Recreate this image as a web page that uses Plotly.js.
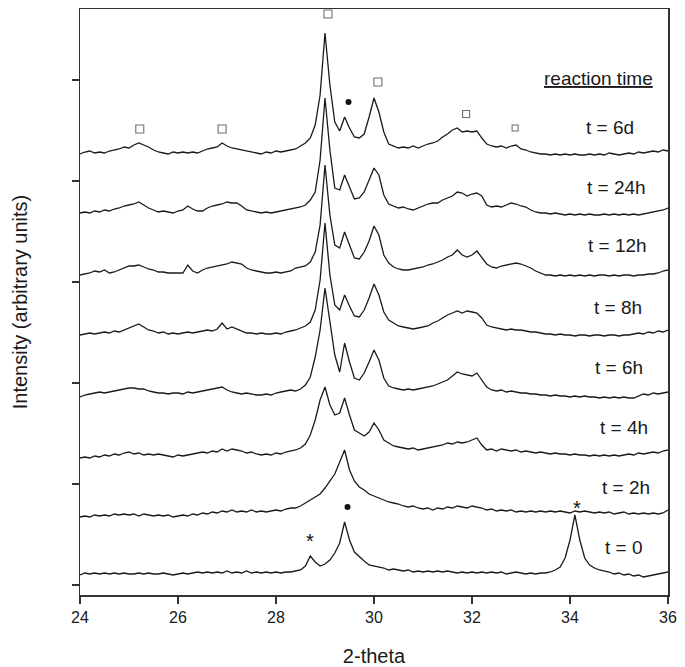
<!DOCTYPE html>
<html>
<head>
<meta charset="utf-8">
<script src="https://cdn.plot.ly/plotly-3.0.1.min.js"></script>
<style>html,body{margin:0;padding:0;background:#fff;}#chart{width:685px;height:667px;}</style>
</head>
<body>
<div id="chart"></div>
<script>
// 2-theta grid (degrees)
const twoTheta = [
24.0,24.1,24.2,24.3,24.4,24.5,24.6,24.7,24.8,24.9,
25.0,25.1,25.2,25.3,25.4,25.5,25.6,25.7,25.8,25.9,
26.0,26.1,26.2,26.3,26.4,26.5,26.6,26.7,26.8,26.9,
27.0,27.1,27.2,27.3,27.4,27.5,27.6,27.7,27.8,27.9,
28.0,28.1,28.2,28.3,28.4,28.5,28.6,28.7,28.8,28.9,
29.0,29.1,29.2,29.3,29.4,29.5,29.6,29.7,29.8,29.9,
30.0,30.1,30.2,30.3,30.4,30.5,30.6,30.7,30.8,30.9,
31.0,31.1,31.2,31.3,31.4,31.5,31.6,31.7,31.8,31.9,
32.0,32.1,32.2,32.3,32.4,32.5,32.6,32.7,32.8,32.9,
33.0,33.1,33.2,33.3,33.4,33.5,33.6,33.7,33.8,33.9,
34.0,34.1,34.2,34.3,34.4,34.5,34.6,34.7,34.8,34.9,
35.0,35.1,35.2,35.3,35.4,35.5,35.6,35.7,35.8,35.9,
36.0];

// stacked intensities (arbitrary units), one array per reaction time
const I_6d = [
431,433,434,432,433,432,434,435,436,438,
437,440,442,440,438,435,433,432,431,433,
432,433,432,433,432,434,436,437,438,442,
439,437,436,435,434,433,432,431,433,432,
434,433,434,435,436,439,442,447,460,490,
552,500,463,454,468,457,448,447,451,468,
487,473,453,441,439,437,438,437,439,437,
439,441,442,444,448,451,455,457,453,454,
453,454,447,441,439,438,439,437,439,440,
436,435,433,432,431,431,430,431,430,431,
430,431,430,430,431,430,431,430,432,431,
430,431,432,431,433,432,433,434,433,435,
434];
const I_24h = [
372,373,372,374,373,375,374,376,377,379,
380,381,383,380,377,375,373,374,373,372,
374,375,379,376,374,374,377,379,380,381,
383,382,382,379,375,374,373,372,373,372,
373,374,375,376,377,378,380,385,393,425,
487,435,397,395,410,397,386,387,393,405,
417,410,390,381,379,377,378,376,375,377,
379,381,382,382,385,387,389,393,392,389,
391,392,389,380,378,379,378,380,382,381,
379,378,375,373,372,372,371,372,371,370,
371,370,371,370,371,370,370,371,370,371,
370,371,370,371,370,371,372,373,374,375,
377];
const I_12h = [
310,311,312,314,313,315,312,313,315,317,
319,319,320,318,316,315,313,313,312,312,
312,312,320,314,312,315,317,318,319,320,
321,323,322,321,317,315,314,313,312,312,
313,312,313,314,317,318,319,323,333,360,
420,370,340,337,353,340,327,326,333,344,
359,350,330,322,318,316,315,315,316,317,
318,320,321,323,325,328,330,335,330,328,
330,334,327,321,318,317,319,320,321,322,
321,319,317,314,312,310,310,309,310,309,
310,309,310,309,310,309,310,310,309,310,
309,310,310,309,310,310,311,311,312,314,
315];
const I_8h = [
250,251,252,251,252,253,252,254,253,255,
257,259,261,258,255,254,252,253,251,252,
251,252,253,252,253,254,255,254,256,262,
256,258,256,254,252,252,251,252,251,251,
252,251,253,254,255,257,259,263,275,305,
362,310,280,275,290,279,269,268,275,287,
301,290,273,265,262,259,258,257,256,257,
258,259,262,264,267,270,272,274,272,274,
273,272,267,260,258,257,256,255,256,255,
255,254,253,253,252,251,251,250,251,250,
250,249,250,250,249,250,250,249,250,250,
249,250,250,251,252,251,253,252,254,253,
255];
const I_6h = [
188,190,191,192,193,192,193,194,195,196,
197,197,196,196,194,193,192,192,191,192,
192,191,193,192,193,194,195,196,197,198,
195,193,192,191,192,191,190,190,191,190,
192,193,194,195,194,196,200,208,228,255,
297,265,230,213,242,223,207,205,212,223,
235,225,207,199,197,196,195,196,195,196,
197,198,199,201,203,205,209,213,211,210,
209,212,205,198,195,194,195,193,194,193,
192,192,191,191,190,190,189,190,189,189,
188,189,188,189,188,188,187,188,187,188,
187,188,187,187,189,191,190,192,191,192,
193];
const I_4h = [
127,128,127,129,128,130,129,131,130,132,
133,131,132,130,131,130,131,130,129,128,
130,129,130,131,132,133,132,134,133,136,
134,136,135,134,132,133,131,130,131,130,
132,131,133,134,135,137,141,150,165,185,
198,180,170,172,187,170,155,152,149,153,
162,155,145,142,139,138,137,136,137,135,
136,137,138,139,140,142,141,143,142,143,
145,147,140,135,136,134,136,135,134,135,
133,134,133,132,133,132,131,132,131,131,
130,131,130,130,129,130,129,130,129,130,
129,130,131,130,132,131,132,133,132,134,
135];
const I_2h = [
68,69,68,70,69,70,69,71,70,71,
70,71,69,71,70,69,70,69,70,68,
69,70,69,71,70,72,71,73,72,74,
73,75,73,74,73,75,73,74,73,74,
75,74,76,77,77,79,82,85,88,91,
97,104,111,123,135,115,104,98,95,91,
89,87,85,83,82,81,79,78,79,77,
76,77,75,77,76,78,77,79,78,77,
79,78,77,75,76,74,75,74,75,73,
74,73,74,73,74,73,74,73,74,73,
72,74,73,74,73,72,73,72,73,71,
72,73,71,72,71,72,71,72,71,72,
75];
const I_0 = [
10,12,11,12,11,12,11,12,11,12,
11,11,12,11,12,11,11,12,11,10,
11,12,11,12,13,12,13,12,13,12,
14,12,13,12,14,12,13,12,13,12,
13,12,13,13,14,15,19,29,23,19,
21,25,32,42,63,45,33,28,24,20,
19,18,17,15,16,15,14,15,13,14,
13,14,13,14,13,14,13,12,13,12,
13,12,13,12,13,12,13,11,12,13,
12,11,12,11,12,12,13,15,18,27,
45,70,45,27,20,17,15,14,13,11,
12,10,11,9,10,8,9,10,11,12,
13];

const seriesNames = ['t = 6d','t = 24h','t = 12h','t = 8h','t = 6h','t = 4h','t = 2h','t = 0'];
const seriesData = [I_6d, I_24h, I_12h, I_8h, I_6h, I_4h, I_2h, I_0];
const xTicks = [24, 26, 28, 30, 32, 34, 36];
const yTicks = [0, 101, 202, 303, 404, 505];

// phase markers: open squares, filled dots, asterisks
const squareX = [25.22, 26.9, 29.06, 30.08, 31.88, 32.88];
const squareY = [456, 456, 571, 503, 471, 457];
const squareSize = [8, 8, 8, 8, 7, 6];
const dotX = [29.48, 29.46];
const dotY = [483, 78];
const starX = [28.69, 34.14];
const starY = [42, 75];

const FONT = 'Arial, "Liberation Sans", Helvetica, sans-serif';
const INK = '#1a1a1a';

const traces = seriesData.map((ys, i) => ({
  type: 'scatter', mode: 'lines', x: twoTheta, y: ys, name: seriesNames[i],
  line: {color: INK, width: 1.3, shape: 'linear'}, hoverinfo: 'skip', showlegend: false
}));
traces.push({type:'scatter', mode:'markers', x: squareX, y: squareY, showlegend:false, hoverinfo:'skip',
  marker:{symbol:'square-open', size: squareSize, color:'#333', line:{width:1.1, color:'#333'}}});
traces.push({type:'scatter', mode:'markers', x: dotX, y: dotY, showlegend:false, hoverinfo:'skip',
  marker:{symbol:'circle', size:6, color:'#111'}});
traces.push({type:'scatter', mode:'text', x: starX, y: starY, text: starX.map(() => '*'), showlegend:false, hoverinfo:'skip',
  textfont:{family: FONT, size: 20, color:'#111'}});

// label anchor points (data coordinates)
const labelX = [34.82, 34.94, 34.96, 34.98, 35.0, 35.1, 35.14, 35.1];
const labelY = [458, 398, 340, 278, 218, 158, 98, 38];
const annotations = seriesNames.map((t, i) => ({
  x: labelX[i], y: labelY[i], xref:'x', yref:'y', text: t, showarrow:false,
  xanchor:'center', yanchor:'middle', font:{family: FONT, size: 19, color: INK}
}));
annotations.push({x: 34.59, y: 507, xref:'x', yref:'y', text:'<u>reaction time</u>', showarrow:false,
  xanchor:'center', yanchor:'middle', font:{family: FONT, size: 19, color: INK}});

const layout = {
  width: 685, height: 667,
  margin: {l: 80, r: 17, t: 9, b: 72},
  paper_bgcolor: '#fff', plot_bgcolor: '#fff',
  font: {family: FONT, color: INK},
  showlegend: false,
  xaxis: {
    range: [24, 36], tickmode: 'array', tickvals: xTicks, ticktext: xTicks.map(String),
    ticks: 'outside', ticklen: 7, tickwidth: 1.5, tickcolor: '#333',
    showline: true, linecolor: '#333', linewidth: 1.5, mirror: true,
    showgrid: false, zeroline: false,
    tickfont: {family: FONT, size: 16, color: INK},
    title: {text: '2-theta', font: {family: FONT, size: 20, color: INK}, standoff: 24}
  },
  yaxis: {
    range: [-10, 576], tickmode: 'array', tickvals: yTicks, showticklabels: false,
    ticks: 'outside', ticklen: 7, tickwidth: 1.5, tickcolor: '#333',
    showline: true, linecolor: '#333', linewidth: 1.5, mirror: true,
    showgrid: false, zeroline: false,
    title: {text: 'Intensity (arbitrary units)', font: {family: FONT, size: 20, color: INK}, standoff: 38}
  },
  annotations: annotations
};

Plotly.newPlot('chart', traces, layout, {staticPlot: true, displayModeBar: false});
</script>
</body>
</html>
